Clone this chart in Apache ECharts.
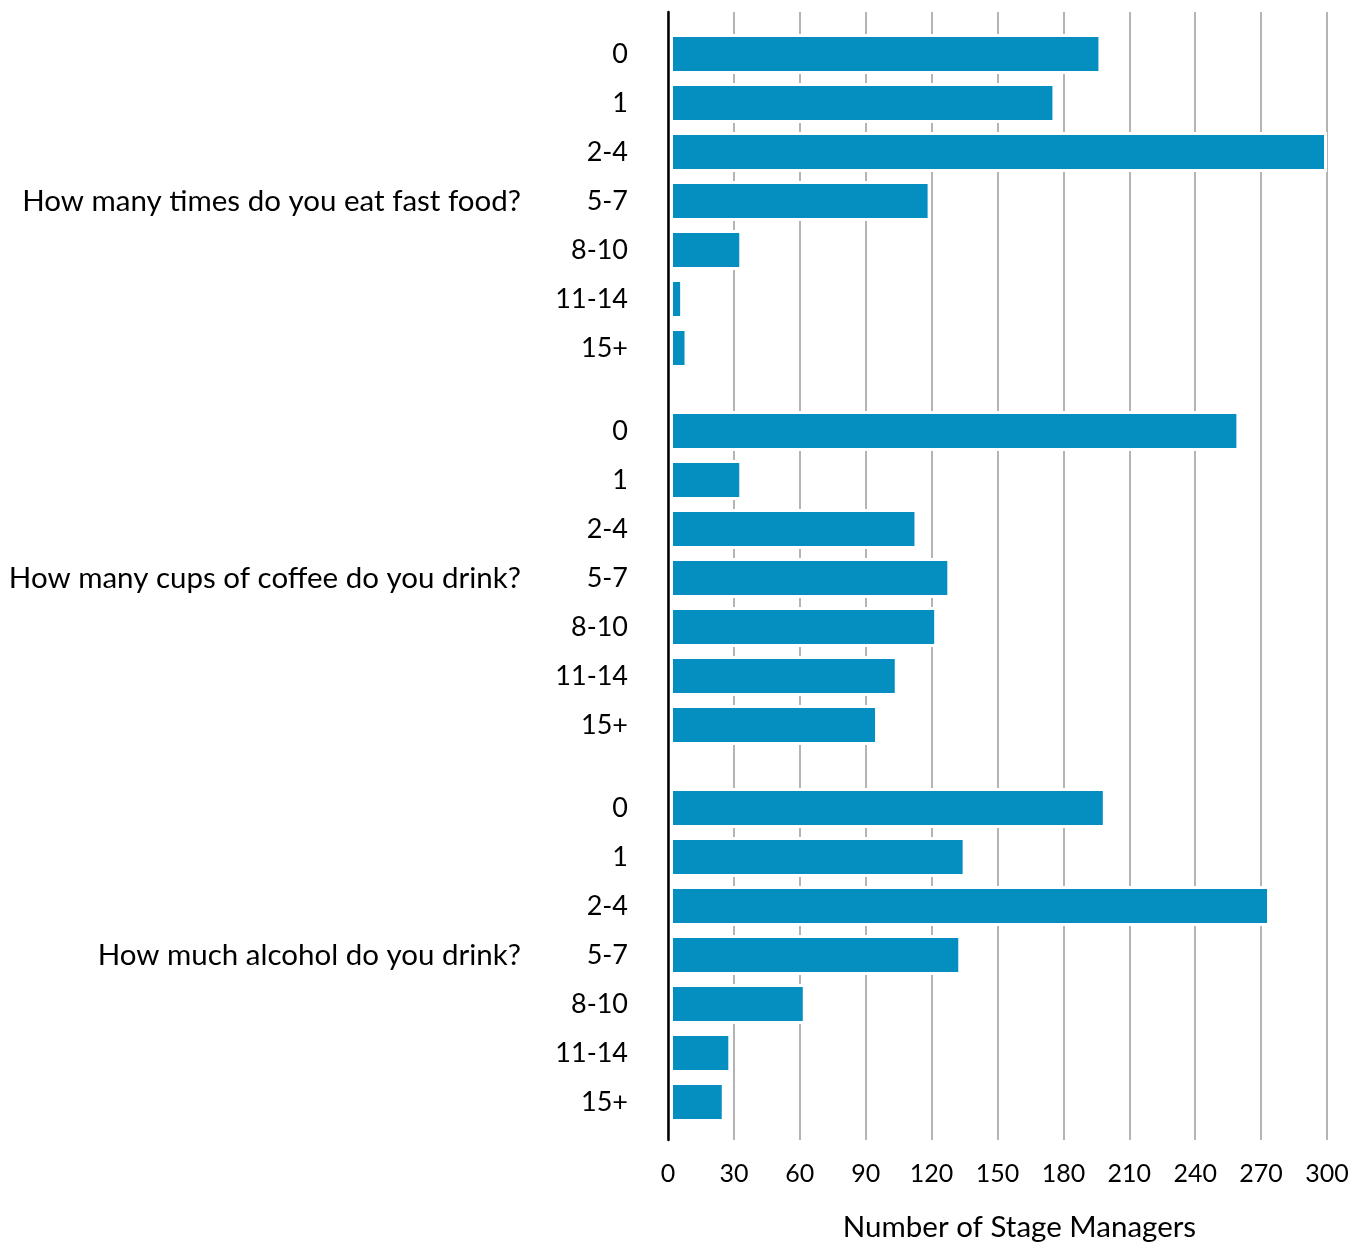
<!DOCTYPE html>
<html>
<head>
<meta charset="utf-8">
<script src="https://cdn.jsdelivr.net/npm/echarts@6/dist/echarts.min.js"></script>
<style>
  html, body { margin: 0; padding: 0; background: #fff; }
  #chart { width: 1364px; height: 1247px; }
</style>
</head>
<body>
<div id="chart"></div>
<script>
// questions (one group of bars each) and the answer buckets
const questions = [
  'How many times do you eat fast food?',
  'How many cups of coffee do you drink?',
  'How much alcohol do you drink?'
]
const answers = ['0', '1', '2-4', '5-7', '8-10', '11-14', '15+']

// number of stage managers per answer
const fastFood = [197, 176, 300, 119, 33, 6, 8]
const coffee = [260, 33, 113, 128, 122, 104, 95]
const alcohol = [199, 135, 274, 133, 62, 28, 25]

const xMin = 0
const xMax = 300
const xInterval = 30
const xName = 'Number of Stage Managers'

const groupValues = [fastFood, coffee, alcohol]

const font = 'Lato, "Open Sans", sans-serif'
const barColor = '#058fc1'

const groupTop = [29.5, 406.5, 783.5]
const groupHeight = 343

const chart = echarts.init(document.getElementById('chart'))

const grid = [{ left: 668, right: 37, top: 12, bottom: 104 }]
const xAxis = [{
  gridIndex: 0,
  type: 'value',
  min: xMin,
  max: xMax,
  interval: xInterval,
  name: xName,
  nameLocation: 'middle',
  nameGap: 72,
  nameTextStyle: { fontFamily: font, fontSize: 29.5, color: '#000', padding: [0, 0, 0, 44] },
  axisLine: { show: false },
  axisTick: { show: false },
  axisLabel: { fontFamily: font, fontSize: 25, color: '#000', margin: 21 },
  splitLine: { lineStyle: { color: '#b4b4b4', width: 2 } }
}]
const yAxis = [{
  gridIndex: 0,
  type: 'category',
  data: [''],
  z: 10,
  axisLine: { show: true, lineStyle: { color: '#000', width: 2.5 } },
  axisTick: { show: false },
  axisLabel: { show: false },
  splitLine: { show: false }
}]
const series = []

questions.forEach((q, i) => {
  const gi = i + 1
  grid.push({ left: 670, right: 37, top: groupTop[i], height: groupHeight })
  xAxis.push({ gridIndex: gi, type: 'value', min: xMin, max: xMax, show: false })
  yAxis.push({
    gridIndex: gi,
    type: 'category',
    inverse: true,
    data: answers,
    name: q,
    nameLocation: 'middle',
    nameRotate: 0,
    nameGap: 149,
    nameTextStyle: { fontFamily: font, fontSize: 29.5, color: '#000', align: 'right' },
    axisLine: { show: false },
    axisTick: { show: false },
    axisLabel: { fontFamily: font, fontSize: 27, color: '#000', margin: 42 },
    splitLine: { show: false }
  })
  series.push({
    type: 'bar',
    xAxisIndex: gi,
    yAxisIndex: gi,
    data: groupValues[i],
    barWidth: 40,
    itemStyle: { color: barColor, borderColor: '#fff', borderWidth: 3 }
  })
})

chart.setOption({
  animation: false,
  grid,
  xAxis,
  yAxis,
  series
})
</script>
</body>
</html>
